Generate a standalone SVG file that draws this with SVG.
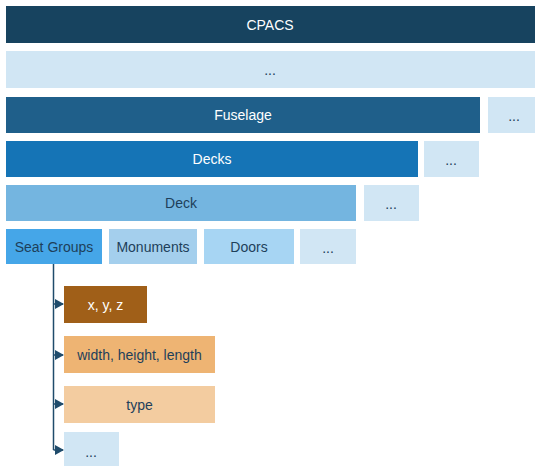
<svg xmlns="http://www.w3.org/2000/svg" width="535" height="466" viewBox="0 0 535 466">
<style>
text{font-family:"Liberation Sans",Arial,sans-serif;font-size:14px;text-anchor:middle;dominant-baseline:central}
.w{fill:#ffffff}
.d{fill:#1e3f5a}
.dots{fill:#d1e6f4}
.conn{stroke:#1f4b6b;stroke-width:1.5;fill:none}
</style>
<defs>
<marker id="ah" markerWidth="10" markerHeight="10" refX="8" refY="5" orient="auto" markerUnits="userSpaceOnUse">
<path d="M0,0 L9,5 L0,10 Z" fill="#1f4b6b"/>
</marker>
</defs>
<rect width="535" height="466" fill="#ffffff"/>
<g id="cpacs"><rect x="6" y="6" width="529" height="37" fill="#17435f"/><text class="w" x="270" y="24.5">CPACS</text></g>
<g id="dots1"><rect class="dots" x="6" y="51" width="529" height="37"/><text class="d" x="270" y="70">...</text></g>
<g id="fuselage"><rect x="6" y="97" width="474" height="36" fill="#1f5f8a"/><text class="w" x="243" y="115">Fuselage</text></g>
<g id="dots2"><rect class="dots" x="488" y="97" width="47" height="36"/><text class="d" x="514" y="116">...</text></g>
<g id="decks"><rect x="6" y="141" width="412" height="36" fill="#1574b6"/><text class="w" x="212" y="159">Decks</text></g>
<g id="dots3"><rect class="dots" x="424" y="141" width="55" height="36"/><text class="d" x="451" y="160">...</text></g>
<g id="deck"><rect x="6" y="185" width="350" height="36" fill="#74b5e0"/><text class="d" x="181" y="203">Deck</text></g>
<g id="dots4"><rect class="dots" x="364" y="185" width="55" height="36"/><text class="d" x="391" y="204">...</text></g>
<g id="seatgroups"><rect x="6" y="229" width="96" height="35" fill="#45a6e8"/><text class="d" x="54" y="246.5">Seat Groups</text></g>
<g id="monuments"><rect x="109" y="229" width="88" height="35" fill="#a4cfed"/><text class="d" x="153" y="246.5">Monuments</text></g>
<g id="doors"><rect x="204" y="229" width="90" height="35" fill="#a7d5f3"/><text class="d" x="249" y="246.5">Doors</text></g>
<g id="dots5"><rect class="dots" x="300" y="229" width="56" height="35"/><text class="d" x="328" y="247.5">...</text></g>
<g id="xyz"><rect x="64" y="286" width="83" height="37" fill="#a05f18"/><text class="w" x="105.5" y="304.5">x, y, z</text></g>
<g id="whl"><rect x="64" y="336" width="151" height="37" fill="#eeb473"/><text class="d" x="139.5" y="354.5">width, height, length</text></g>
<g id="type"><rect x="64" y="386" width="151" height="37" fill="#f3cca0"/><text class="d" x="139.5" y="404.5">type</text></g>
<g id="dots6"><rect class="dots" x="64" y="432" width="55" height="34"/><text class="d" x="91" y="452">...</text></g>
<g id="connectors">
<path class="conn" d="M53.5,264 V450"/>
<path class="conn" d="M53.5,304 H63" marker-end="url(#ah)"/>
<path class="conn" d="M53.5,355 H63" marker-end="url(#ah)"/>
<path class="conn" d="M53.5,404 H63" marker-end="url(#ah)"/>
<path class="conn" d="M53.5,450 H63" marker-end="url(#ah)"/>
</g>
</svg>
